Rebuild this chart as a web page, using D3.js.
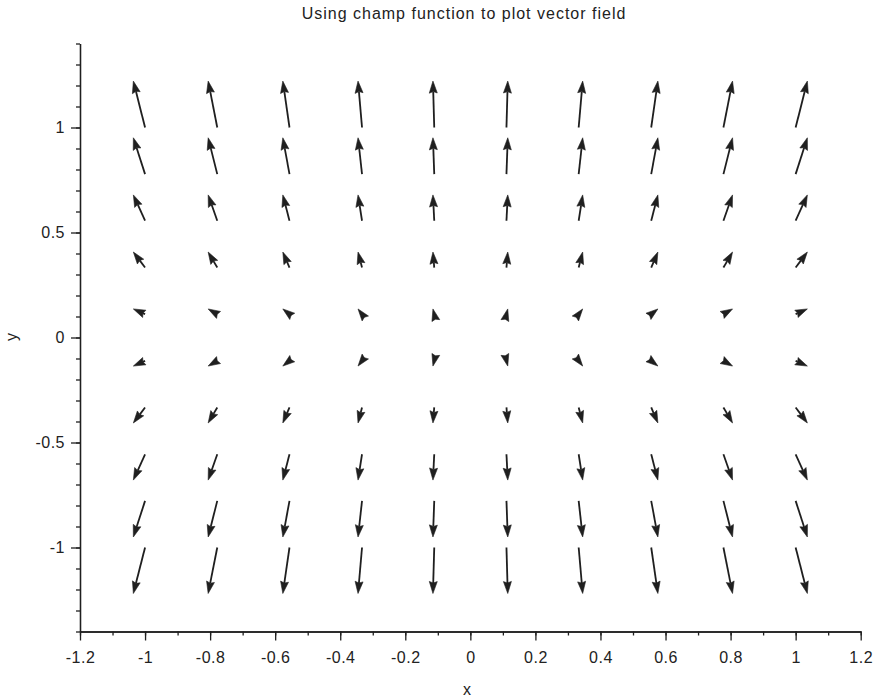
<!DOCTYPE html>
<html>
<head>
<meta charset="utf-8">
<script src="https://cdn.jsdelivr.net/npm/d3@7/dist/d3.min.js"></script>
<style>
  html, body { margin: 0; padding: 0; background: #fff; }
  svg { display: block; font-family: "Liberation Sans", Arial, sans-serif; }
</style>
</head>
<body>
<svg id="chart" width="877" height="699"></svg>
<script>
// grid points where each arrow starts (tail)
const xGrid = [-1, -0.778, -0.556, -0.333, -0.111, 0.111, 0.333, 0.556, 0.778, 1];
const yGrid = [-1, -0.778, -0.556, -0.333, -0.111, 0.111, 0.333, 0.556, 0.778, 1];

// arrow components (data units)
const uByColumn = [-0.036, -0.028, -0.0205, -0.0123, -0.004, 0.004, 0.0123, 0.0205, 0.028, 0.036];
const vByRow = [-0.219, -0.172, -0.123, -0.074, -0.025, 0.025, 0.074, 0.123, 0.173, 0.221];

const xMajorTicks = [-1.2, -1, -0.8, -0.6, -0.4, -0.2, 0, 0.2, 0.4, 0.6, 0.8, 1, 1.2];
const yMajorTicks = [-1, -0.5, 0, 0.5, 1];

const titleText = 'Using champ function to plot vector field';

const svg = d3.select('#chart');
const ink = '#1f1f1f';

const xScale = d3.scaleLinear().domain([-1.2, 1.2]).range([80, 860.7]);
const yScale = d3.scaleLinear().domain([-1.4, 1.4]).range([631.5, 43.5]);

const xMinor = d3.range(-12, 13).map(d => d / 10);
const yMinor = d3.range(-14, 15).map(d => d / 10);

const fmt = d => d3.format('~g')(d).replace('−', '-');

function styleAxis(g) {
    g.select('.domain').attr('stroke', ink).attr('stroke-width', 1.3);
    g.selectAll('.tick line').attr('stroke', ink).attr('stroke-width', 1.3);
    g.selectAll('.tick text')
        .attr('fill', '#222')
        .attr('font-size', 16)
        .attr('letter-spacing', 0.5)
        .attr('font-family', '"Liberation Sans", Arial, sans-serif');
}

// x axis: minor then major
svg.append('g')
    .attr('transform', `translate(0, ${yScale(-1.4)})`)
    .call(d3.axisBottom(xScale).tickValues(xMinor).tickSize(4).tickFormat('').tickSizeOuter(0))
    .call(styleAxis);

svg.append('g')
    .attr('transform', `translate(0, ${yScale(-1.4)})`)
    .call(d3.axisBottom(xScale).tickValues(xMajorTicks).tickSize(9).tickSizeOuter(0)
        .tickPadding(11).tickFormat(fmt))
    .call(styleAxis);

// y axis
svg.append('g')
    .attr('transform', `translate(${xScale(-1.2)}, 0)`)
    .call(d3.axisLeft(yScale).tickValues(yMinor).tickSize(4).tickFormat('').tickSizeOuter(0))
    .call(styleAxis);

svg.append('g')
    .attr('transform', `translate(${xScale(-1.2)}, 0)`)
    .call(d3.axisLeft(yScale).tickValues(yMajorTicks).tickSize(9).tickSizeOuter(0)
        .tickPadding(6).tickFormat(fmt))
    .call(styleAxis);

// labels
svg.append('text')
    .attr('x', 464).attr('y', 19)
    .attr('text-anchor', 'middle')
    .attr('font-size', 16)
    .attr('letter-spacing', 1)
    .attr('fill', '#222')
    .text(titleText);

svg.append('text')
    .attr('x', 467).attr('y', 695)
    .attr('text-anchor', 'middle')
    .attr('font-size', 16)
    .attr('fill', '#222')
    .text('x');

svg.append('text')
    .attr('transform', `translate(17, 337) rotate(-90)`)
    .attr('text-anchor', 'middle')
    .attr('font-size', 16)
    .attr('fill', '#222')
    .text('y');

// vector field
const arrows = [];
yGrid.forEach((y, j) => {
    xGrid.forEach((x, i) => {
        arrows.push({x: x, y: y, u: uByColumn[i], v: vByRow[j]});
    });
});

const headLen = 12;
const headHalf = 4;
const notch = 1.5;

const field = svg.append('g').attr('class', 'field');

arrows.forEach(a => {
    const x0 = xScale(a.x);
    const y0 = yScale(a.y);
    const x1 = xScale(a.x + a.u);
    const y1 = yScale(a.y + a.v);
    const len = Math.hypot(x1 - x0, y1 - y0);
    const ux = (x1 - x0) / len;
    const uy = (y1 - y0) / len;
    const px = -uy;
    const py = ux;
    const bx = x1 - ux * headLen;
    const by = y1 - uy * headLen;
    const nx = x1 - ux * (headLen - notch);
    const ny = y1 - uy * (headLen - notch);

    const g = field.append('g');
    g.append('line')
        .attr('x1', x0).attr('y1', y0)
        .attr('x2', nx).attr('y2', ny)
        .attr('stroke', ink)
        .attr('stroke-width', 1.8);
    g.append('path')
        .attr('d', `M${x1},${y1}L${bx + px * headHalf},${by + py * headHalf}L${nx},${ny}L${bx - px * headHalf},${by - py * headHalf}Z`)
        .attr('fill', ink)
        .attr('stroke', ink)
        .attr('stroke-width', 0.6)
        .attr('stroke-linejoin', 'miter');
});
</script>
</body>
</html>
